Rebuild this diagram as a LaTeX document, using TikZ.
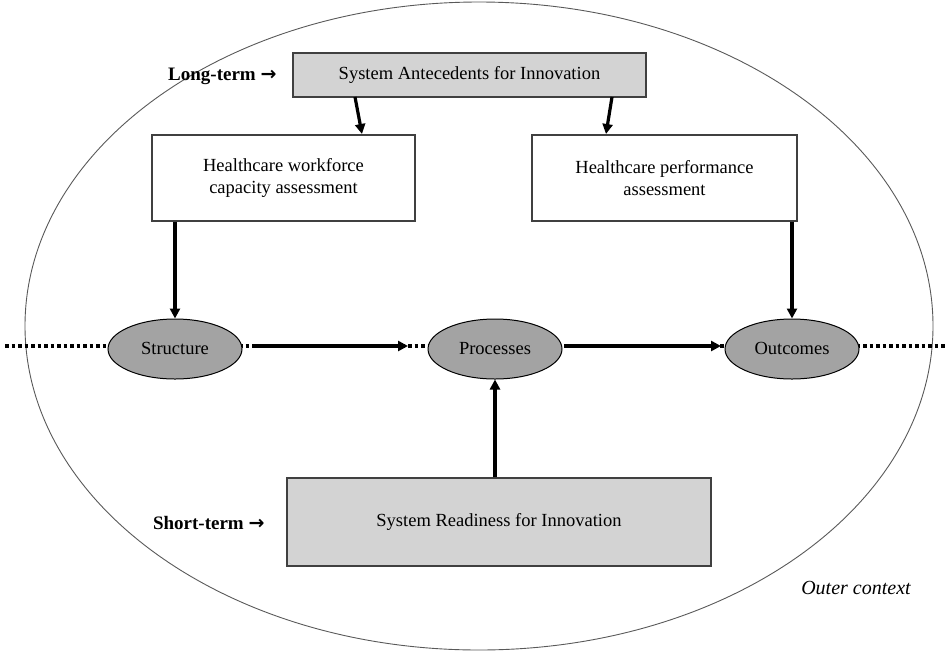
\documentclass[tikz,border=0pt]{standalone}
\usepackage{fontspec}
\setmainfont{Liberation Serif}
\newfontfamily\arrowfont{DejaVu Sans}
\usetikzlibrary{shapes.geometric,arrows.meta}
\definecolor{boxgray}{HTML}{D3D3D3}
\definecolor{ellgray}{HTML}{A3A3A3}
\definecolor{edgegray}{HTML}{404040}
\newcommand{\rarr}{{\arrowfont\bfseries →}}
\begin{document}
\begin{tikzpicture}[x=1pt,y=-1pt,
  every node/.style={font=\fontsize{18.5}{22}\selectfont},
  graybox/.style={draw=edgegray,line width=1.1pt,fill=boxgray,inner sep=0pt},
  whitebox/.style={draw=edgegray,line width=1.1pt,fill=white,inner sep=0pt,align=center},
  oval/.style={ellipse,draw=black,line width=1pt,fill=ellgray,minimum width=134pt,minimum height=60pt,inner sep=0pt,text height=2.6ex,text depth=0ex},
  arr/.style={line width=3.2pt,-{Triangle[length=10pt,width=10pt]}},
  termlabel/.style={font=\fontsize{19}{22}\selectfont\bfseries,anchor=east}
]
\useasboundingbox (0,0) rectangle (947,654);
% outer context ellipse
\draw[draw=gray!70!black,line width=0.9pt] (479,326) ellipse [x radius=454, y radius=324];
\node[font=\fontsize{20}{24}\selectfont\itshape] (outer) at (856,588) {Outer context};

% top box
\node[graybox,minimum width=353pt,minimum height=44pt] (ante) at (469.5,75) {System Antecedents for Innovation};
\node[termlabel] (lt) at (280,76) {Long-term \rarr};

% assessment boxes
\node[whitebox,minimum width=263pt,minimum height=86pt] (work) at (283.5,178) {Healthcare workforce\\capacity assessment};
\node[whitebox,minimum width=265pt,minimum height=86pt] (perf) at (664.5,178) {Healthcare performance\\assessment};

% dotted base line
\coordinate (lend) at (5,346);
\coordinate (rend) at (947,346);
\draw[line width=3.5pt,dash pattern=on 3.5pt off 3pt] (lend) -- (rend);

% ellipses
\node[oval] (str) at (175,349) {Structure};
\node[oval] (proc) at (495,349) {Processes};
\node[oval] (out) at (792,349) {Outcomes};

% solid arrows along the line
\coordinate (a1s) at (256,346);
\coordinate (a1e) at (408,346);
\coordinate (a2s) at (567,346);
\coordinate (a2e) at (721,346);
\draw[arr] (a1s) -- (a1e);
\draw[arr] (a2s) -- (a2e);

% bottom box
\node[graybox,minimum width=424pt,minimum height=88pt] (ready) at (499,522) {System Readiness for Innovation};
\node[termlabel] (st) at (268,523) {Short-term \rarr};

% arrows from top box
\coordinate (t1) at (355,97);
\coordinate (t2) at (612,97);
\draw[arr] (t1) -- (362,134);
\draw[arr] (t2) -- (606,134);

% vertical arrows
\draw[arr] (work.south -| str.north) -- (str.north);
\draw[arr] (perf.south -| out.north) -- (out.north);
\draw[arr] (ready.north -| proc.south) -- (proc.south);
\end{tikzpicture}
\end{document}
